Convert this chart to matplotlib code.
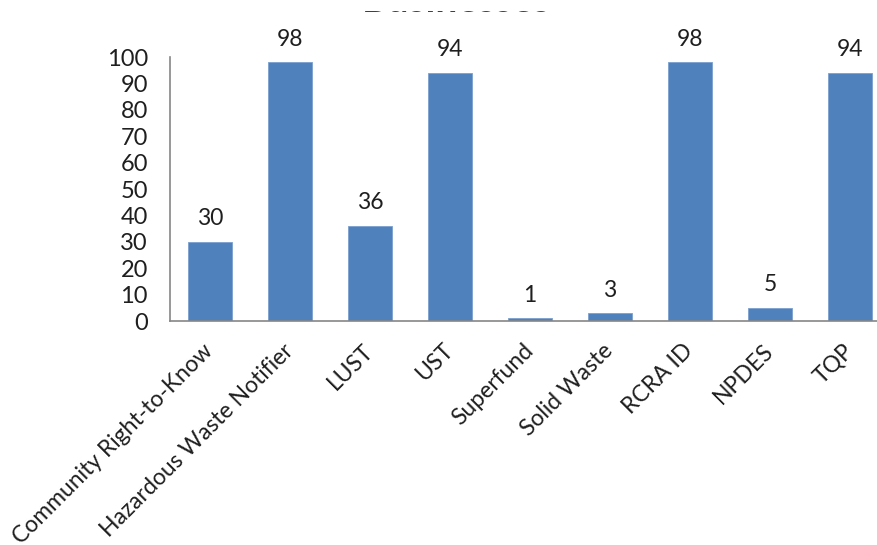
import numpy as np
import matplotlib
matplotlib.use("Agg")
import matplotlib.pyplot as plt
from matplotlib.transforms import Bbox

plt.rcParams['font.family'] = ['Lato', 'DejaVu Sans']

# programs and number of businesses in each
programs = ["Community Right-to-Know", "Hazardous Waste Notifier", "LUST", "UST",
            "Superfund", "Solid Waste", "RCRA ID", "NPDES", "TQP"]
counts = [30, 98, 36, 94, 1, 3, 98, 5, 94]
yticks = list(range(0, 101, 10))

BAR = "#4F81BD"
AXIS = "#868686"
INK = "#1f1f1f"

W, H = 878, 545
fig = plt.figure(figsize=(W / 100, H / 100), dpi=100)
# plot area runs a little past the right edge, as in the exported sheet
ax = fig.add_axes([170 / W, 224 / H, 720 / W, 264 / H])

x = np.arange(len(programs))
bars = ax.bar(x, counts, width=0.56, color=BAR, edgecolor="#7A9FCF",
              linewidth=0.6, zorder=2)
for b, v in zip(bars, counts):
    ax.annotate(str(v), (b.get_x() + b.get_width() / 2, v), xytext=(0, 9),
                textcoords="offset points", ha="center", va="bottom",
                fontsize=16.5, color=INK)

ax.set_xlim(-0.5, len(programs) - 0.5)
ax.set_ylim(0, 100)
ax.set_yticks(yticks)
ax.tick_params(axis="y", length=0, labelsize=17, labelcolor=INK, pad=16)
ax.set_xticks(x)
ax.set_xticklabels(programs, rotation=45, ha="right", va="center",
                   rotation_mode="anchor", fontsize=16.5, color=INK)
ax.tick_params(axis="x", length=0, pad=19)

for s in ("top", "right"):
    ax.spines[s].set_visible(False)
for s in ("left", "bottom"):
    ax.spines[s].set_color(AXIS)
    ax.spines[s].set_linewidth(1.2)

# chart title sits above the cropped top edge; only its foot shows
title = fig.text(456 / W, 1 - 12.5 / H, "Businesses", ha="center", va="baseline",
                 fontsize=28, fontweight="bold", color="#404040")
title.set_clip_box(Bbox([[0, 0], [W, H - 10.5]]))
title.set_clip_on(True)

fig.savefig("out.png", dpi=100)
